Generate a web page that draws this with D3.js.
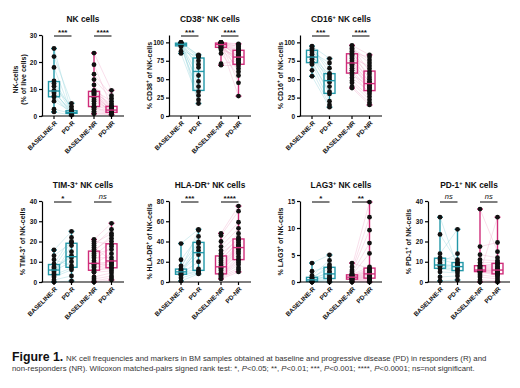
<!DOCTYPE html>
<html>
<meta charset="utf-8">
<style>
    body { margin: 0; background: #fff; }
    text { font-family: 'Liberation Sans', Arial, sans-serif; }
</style>

<body>
    <svg id="chart" width="520" height="388"></svg>
    <script src="https://d3js.org/d3.v7.min.js"></script>
    <script>

        const categories = ["BASELINE-R", "PD-R", "BASELINE-NR", "PD-NR"];

        // values per patient, baseline and PD arrays paired by index
        const nkBaseR = [25, 22, 18, 13, 12, 11, 9.5, 9, 8.5, 7.5, 7, 5.5, 2.5, 1.5];
        const nkPdR = [1.2, 4.7, 1.0, 2.5, 1.5, 3.5, 0.8, 1.3, 2.0, 1.1, 0.5, 1.7, 1.0, 0.3];
        const nkBaseNR = [23.3, 19, 15.5, 13.5, 11.5, 9.5, 9.0, 8.9, 8.6, 8.3, 8.0, 7.4, 7.0, 6.8, 6.0, 5.5, 4.5, 3.6, 3.2, 3.0, 2.5, 1.8, 1.2, 0.8];
        const nkPdNR = [9.5, 3.2, 7.5, 6.5, 2.3, 5.5, 3.8, 2.0, 4.5, 1.6, 3.5, 2.7, 1.2, 2.5, 2.1, 1.9, 1.4, 3.0, 1.0, 1.8, 1.1, 0.9, 0.7, 0.5];

        const cd38BaseR = [100, 100, 99.5, 99, 98.5, 98, 97.5, 97, 96.5, 96, 95, 94, 88, 85];
        const cd38PdR = [82, 40, 83, 66, 17, 80, 55, 75, 28, 70, 47, 33, 81, 22];
        const cd38BaseNR = [100, 100, 100, 99.5, 99.5, 99, 99, 98.5, 98.5, 98, 98, 97.5, 96.5, 96, 95.5, 95, 94, 93.5, 92.5, 92, 90, 85, 71, 69];
        const cd38PdNR = [98, 94, 60, 89, 97, 79, 86, 45, 92, 81, 95, 71, 84, 27, 90, 77, 88, 73, 78, 64, 82, 55, 75, 68];

        const cd16BaseR = [95, 94, 92, 90, 87, 84, 81, 79, 77, 74, 72, 70, 62, 54];
        const cd16PdR = [78, 58, 65, 50, 72, 46, 56, 40, 53, 30, 33, 20, 15, 12];
        const cd16BaseNR = [96, 94, 92, 90, 88, 86, 84, 82, 80, 78, 75, 73, 71, 70, 68, 65, 62, 59, 56, 52, 48, 45, 40, 38];
        const cd16PdNR = [83, 60, 76, 72, 50, 80, 64, 45, 57, 68, 42, 53, 39, 47, 37, 43, 35, 30, 41, 33, 26, 22, 18, 15];

        const tim3BaseR = [15.8, 13, 11, 9, 7.5, 7, 6.3, 5.5, 5, 4, 3.5, 2.5, 1, 0];
        const tim3PdR = [25, 19.5, 8, 22, 12, 20, 13, 10, 15, 18, 7, 6, 3, 0.5];
        const tim3BaseNR = [21, 20, 19, 18, 17, 16, 15, 14, 13, 12, 10.5, 9.4, 9, 8.8, 8, 7.5, 7, 6, 5.2, 4.8, 2.5, 1.5, 0.5, 0];
        const tim3PdNR = [29, 18.5, 24, 26, 10.6, 21.5, 23, 16, 20, 12, 17.5, 9.8, 14, 8.5, 10.2, 7.2, 9, 6.5, 8, 5.5, 4.5, 3, 2, 1];

        const hlaBaseR = [38, 22, 16, 13, 12, 11, 10.5, 9.5, 9, 8, 7.5, 6.5, 4, 1];
        const hlaPdR = [52, 45, 39.5, 51, 31, 38, 27, 34, 13, 20, 11, 10, 9, 8];
        const hlaBaseNR = [48, 46, 40, 35, 31, 28, 25, 23, 21, 19, 17, 15.5, 14.5, 13.5, 12, 11, 9, 8.2, 7.5, 7, 6, 5, 4, 3];
        const hlaPdNR = [75, 70, 59, 53, 48, 42, 44, 39, 41, 37, 36, 35, 33, 32, 30, 28, 25, 22.5, 21, 19, 17, 14, 12, 10];

        const lagBaseR = [3.5, 2.0, 1.2, 0.9, 0.75, 0.6, 0.45, 0.35, 0.3, 0.2, 0.1, 0.05, 0, 0];
        const lagPdR = [5.0, 2.8, 4.0, 2.5, 1.6, 3.2, 1.1, 2.0, 0.8, 1.4, 0.6, 0.4, 0.2, 0];
        const lagBaseNR = [3.5, 2.8, 2.2, 1.9, 1.6, 1.4, 1.3, 1.25, 1.2, 1.1, 1.0, 0.95, 0.85, 0.8, 0.75, 0.7, 0.6, 0.55, 0.45, 0.4, 0.3, 0.2, 0.1, 0];
        const lagPdNR = [2.5, 14.8, 12, 9.6, 7.2, 2.8, 5.3, 2.4, 1.8, 2.2, 1.4, 1.6, 2.0, 1.3, 1.2, 0.9, 1.0, 0.75, 0.6, 0.5, 0.35, 0.2, 0.1, 0];

        const pd1BaseR = [32, 23.5, 14, 12, 11, 9.5, 8.6, 8.2, 8, 7.5, 6.5, 5, 2.5, 0.5];
        const pd1PdR = [7.4, 9.8, 26, 11, 9, 14, 7.8, 8.5, 7, 6, 5.5, 4.5, 3, 1];
        const pd1BaseNR = [36, 17.5, 13.5, 11, 9.5, 8.2, 8, 7.6, 7.2, 6.8, 6.2, 5.95, 5.85, 5.8, 5.7, 5.6, 5.4, 5.2, 5, 4.5, 3.5, 2.5, 1, 0];
        const pd1PdNR = [15, 19.5, 12, 10.5, 9.8, 9, 8.5, 7.8, 7, 6.5, 6, 5.8, 5.6, 5.3, 5, 4.5, 4.1, 3.8, 3.2, 32, 2.5, 1.5, 0.5, 0];

        const tickNK = [0, 10, 20, 30];
        const tickPct = [0, 25, 50, 75, 100];
        const tick40 = [0, 10, 20, 30, 40];
        const tickHLA = [0, 20, 40, 60, 80];
        const tickLAG = [0, 5, 10, 15];

        const panels = [
            { col: 0, row: 0, title: ["NK cells", "", ""], yLabel: null, max: 30, ticks: tickNK,
              groups: [nkBaseR, nkPdR, nkBaseNR, nkPdNR], sig: ["***", "****"] },
            { col: 1, row: 0, title: ["CD38", "+", " NK cells"], yLabel: ["% CD38", "+", " of NK-cells"], max: 110, ticks: tickPct,
              groups: [cd38BaseR, cd38PdR, cd38BaseNR, cd38PdNR], sig: ["***", "****"] },
            { col: 2, row: 0, title: ["CD16", "+", " NK cells"], yLabel: ["% CD16", "+", " of NK-cells"], max: 110, ticks: tickPct,
              groups: [cd16BaseR, cd16PdR, cd16BaseNR, cd16PdNR], sig: ["***", "****"] },
            { col: 0, row: 1, title: ["TIM-3", "+", " NK cells"], yLabel: ["% TIM-3", "+", " of NK-cells"], max: 40, ticks: tick40,
              groups: [tim3BaseR, tim3PdR, tim3BaseNR, tim3PdNR], sig: ["*", "ns"] },
            { col: 1, row: 1, title: ["HLA-DR", "+", " NK cells"], yLabel: ["% HLA-DR", "+", " of NK-cells"], max: 80, ticks: tickHLA,
              groups: [hlaBaseR, hlaPdR, hlaBaseNR, hlaPdNR], sig: ["***", "****"] },
            { col: 2, row: 1, title: ["LAG3", "+", " NK cells"], yLabel: ["% LAG3", "+", " of NK-cells"], max: 15, ticks: tickLAG,
              groups: [lagBaseR, lagPdR, lagBaseNR, lagPdNR], sig: ["*", "**"] },
            { col: 3, row: 1, title: ["PD-1", "+", " NK cells"], yLabel: ["% PD-1", "+", " of NK-cells"], max: 40, ticks: tick40,
              groups: [pd1BaseR, pd1PdR, pd1BaseNR, pd1PdNR], sig: ["ns", "ns"] }
        ];

        const chart = d3.select("#chart");
        chart.append("rect").attr("width", 520).attr("height", 388).attr("fill", "#fff");

        const colX = [42, 169, 300, 428];
        const rowBottom = [116, 282];
        const plotHeight = 81;
        const axisLen = 82;
        const boxWidth = 11;
        const teal = "#2398a8";
        const pink = "#cf2d7a";
        const groupColor = [teal, teal, pink, pink];
        const lineColor = ["#9ad6dd", "#f0b3d0"];

        const xOffset = d3.scaleOrdinal()
            .domain(categories)
            .range([12, 29.5, 52, 69.5]);

        function addSup(sel, parts, size) {
            sel.append("tspan").text(parts[0]);
            if (parts[1]) {
                sel.append("tspan").attr("dy", -size * 0.4).style("font-size", (size * 0.65) + "px").text(parts[1]);
                sel.append("tspan").attr("dy", size * 0.4).text(parts[2]);
            }
        }

        panels.forEach(p => {
            const x0 = colX[p.col];
            const y0 = rowBottom[p.row];
            const yTop = y0 - plotHeight;
            const g = chart.append("g");

            const yScale = d3.scaleLinear().domain([0, p.max]).range([y0, yTop]);
            const xPos = c => x0 + xOffset(c);

            // pair lines
            [[0, 1], [2, 3]].forEach((pair, k) => {
                const a = p.groups[pair[0]], b = p.groups[pair[1]];
                g.append("g").selectAll("line")
                    .data(d3.range(a.length))
                    .enter()
                    .append("line")
                    .attr("x1", xPos(categories[pair[0]]))
                    .attr("x2", xPos(categories[pair[1]]))
                    .attr("y1", i => yScale(a[i]))
                    .attr("y2", i => yScale(b[i]))
                    .attr("stroke", lineColor[k])
                    .attr("stroke-width", 0.6)
                    .attr("stroke-opacity", 0.7);
            });

            // boxes
            p.groups.forEach((vals, gi) => {
                const s = vals.slice().sort(d3.ascending);
                const cx = xPos(categories[gi]);
                const q1 = d3.quantile(s, 0.25), med = d3.quantile(s, 0.5), q3 = d3.quantile(s, 0.75);
                const col = groupColor[gi];
                g.append("line").attr("x1", cx).attr("x2", cx)
                    .attr("y1", yScale(s[0])).attr("y2", yScale(s[s.length - 1]))
                    .attr("stroke", col).attr("stroke-width", 1.4);
                [s[0], s[s.length - 1]].forEach(v => {
                    g.append("line").attr("x1", cx - 3).attr("x2", cx + 3)
                        .attr("y1", yScale(v)).attr("y2", yScale(v))
                        .attr("stroke", col).attr("stroke-width", 1.4);
                });
                g.append("rect")
                    .attr("x", cx - boxWidth / 2).attr("width", boxWidth)
                    .attr("y", yScale(q3)).attr("height", Math.max(yScale(q1) - yScale(q3), 0.5))
                    .attr("fill", "none").attr("stroke", col).attr("stroke-width", 1.4);
                g.append("g").selectAll("circle")
                    .data(vals)
                    .enter()
                    .append("circle")
                    .attr("cx", cx)
                    .attr("cy", d => yScale(d))
                    .attr("r", 2.4)
                    .attr("fill", "#111");
                g.append("line").attr("x1", cx - boxWidth / 2).attr("x2", cx + boxWidth / 2)
                    .attr("y1", yScale(med)).attr("y2", yScale(med))
                    .attr("stroke", col).attr("stroke-width", 1.4);
            });

            // y axis
            const yAxis = g.append("g")
                .attr("transform", "translate(" + x0 + ",0)")
                .call(d3.axisLeft(yScale).tickValues(p.ticks).tickSize(3).tickSizeOuter(0).tickPadding(2));
            yAxis.select(".domain").attr("stroke", "#000").attr("stroke-width", 1.2);
            yAxis.selectAll(".tick line").attr("stroke", "#000").attr("stroke-width", 1.2);
            yAxis.selectAll(".tick text")
                .style("font-size", "6.5px").style("font-weight", "bold").attr("fill", "#111");

            // x axis
            g.append("line").attr("x1", x0 - 0.6).attr("x2", x0 + axisLen)
                .attr("y1", y0).attr("y2", y0).attr("stroke", "#000").attr("stroke-width", 1.2);
            categories.forEach(c => {
                g.append("line").attr("x1", xPos(c)).attr("x2", xPos(c))
                    .attr("y1", y0).attr("y2", y0 + 3).attr("stroke", "#000").attr("stroke-width", 1.2);
                g.append("text")
                    .attr("transform", "translate(" + (xPos(c) + 2) + "," + (y0 + 6) + ")rotate(-45)")
                    .attr("text-anchor", "end")
                    .attr("dy", "0.35em")
                    .style("font-size", "6.3px").style("font-weight", "bold").attr("fill", "#111")
                    .text(c);
            });

            // title
            const title = g.append("text")
                .attr("x", x0 + axisLen / 2).attr("y", yTop - 13)
                .attr("text-anchor", "middle")
                .style("font-size", "8.4px").style("font-weight", "bold").attr("fill", "#111");
            addSup(title, p.title, 8.4);

            // y label
            const yMid = (y0 + yTop) / 2;
            if (p.yLabel) {
                const yl = g.append("text")
                    .attr("transform", "translate(" + (x0 - 17) + "," + yMid + ")rotate(-90)")
                    .attr("text-anchor", "middle")
                    .style("font-size", "7px").style("font-weight", "bold").attr("fill", "#111");
                addSup(yl, p.yLabel, 7);
            } else {
                ["NK-cells", "(% of live cells)"].forEach((t, i) => {
                    g.append("text")
                        .attr("transform", "translate(" + (x0 - 24 + i * 7.5) + "," + (yMid + 4) + ")rotate(-90)")
                        .attr("text-anchor", "middle")
                        .style("font-size", "7px").style("font-weight", "bold").attr("fill", "#111")
                        .text(t);
                });
            }

            // significance bars
            [[0, 1], [2, 3]].forEach((pair, k) => {
                const xa = xPos(categories[pair[0]]), xb = xPos(categories[pair[1]]);
                const by = yTop + 1;
                g.append("line").attr("x1", xa).attr("x2", xb).attr("y1", by).attr("y2", by)
                    .attr("stroke", "#000").attr("stroke-width", 1);
                const isNs = p.sig[k] == "ns";
                g.append("text")
                    .attr("x", (xa + xb) / 2).attr("y", isNs ? by - 3 : by - 1.5)
                    .attr("text-anchor", "middle")
                    .style("font-size", isNs ? "7.5px" : "8px")
                    .style("font-weight", isNs ? "normal" : "bold")
                    .style("font-style", isNs ? "italic" : "normal")
                    .attr("fill", "#111")
                    .text(p.sig[k]);
            });
        });

        // caption
        const cap1 = chart.append("text").attr("x", 12).attr("y", 361).attr("fill", "#333").style("font-size", "7.8px");
        cap1.append("tspan").style("font-size", "12.3px").style("font-weight", "bold").attr("fill", "#111").text("Figure 1.");
        cap1.append("tspan").attr("x", 66).text("NK cell frequencies and markers in BM samples obtained at baseline and progressive disease (PD) in responders (R) and");

        const cap2 = chart.append("text").attr("x", 12).attr("y", 371).attr("fill", "#333").style("font-size", "7.8px");
        const capParts = [
            ["non-responders (NR). Wilcoxon matched-pairs signed rank test: *, ", false], ["P", true], ["<0.05; **, ", false],
            ["P", true], ["<0.01; ***, ", false], ["P", true], ["<0.001; ****, ", false], ["P", true], ["<0.0001; ns=not significant.", false]
        ];
        capParts.forEach(cp => {
            cap2.append("tspan").style("font-style", cp[1] ? "italic" : "normal").text(cp[0]);
        });

    </script>
</body>

</html>
